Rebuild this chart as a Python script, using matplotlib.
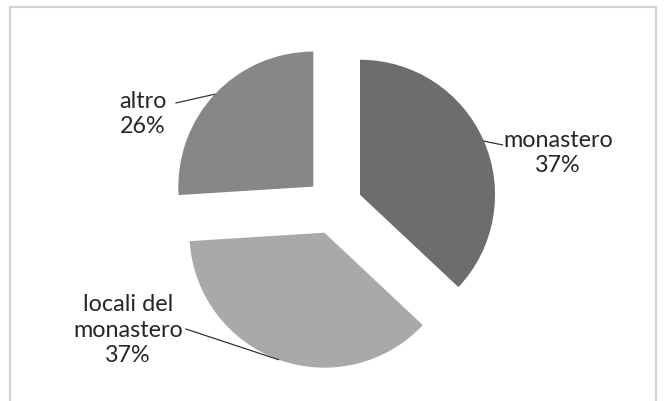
import numpy as np
import matplotlib
matplotlib.use("Agg")
import matplotlib.pyplot as plt
from matplotlib.patches import Rectangle

# Data
labels = ["monastero", "locali del\nmonastero", "altro"]
values = [37, 37, 26]
colors = ["#6d6d6d", "#a9a9a9", "#878787"]

W, H = 667, 401
fig = plt.figure(figsize=(W / 100, H / 100), dpi=100)
fig.patch.set_facecolor("white")

# Light chart-area frame
fig.add_artist(Rectangle((10 / W, -0.05), (656 - 10) / W, 1.05 - 7 / H,
                         transform=fig.transFigure, fill=False,
                         edgecolor="#d2d2d2", lw=1.6))

ax = fig.add_axes([0, 0, 1, 1])
R = 135.0
cx, cy = 334.0, 206.0
wedges, _ = ax.pie(values, colors=colors, startangle=90, counterclock=False,
                   explode=[0.21] * len(values), radius=1.0,
                   wedgeprops=dict(linewidth=0))
ax.set_aspect("auto")
ax.set_xlim(-cx / R, (W - cx) / R)
ax.set_ylim(-(H - cy) / R, cy / R)
ax.axis("off")

font = ["Lato", "DejaVu Sans"]
txtcol = "#262626"

# label centre and leader start (data units) for each wedge
label_pos = [(1.659, 0.393), (-1.526, -0.919), (-1.415, 0.681)]
leader_start = [(1.250, 0.452), (-1.098, -0.911), (-1.172, 0.763)]

for w, lab, v, lp, ls in zip(wedges, labels, values, label_pos, leader_start):
    ang = np.deg2rad((w.theta1 + w.theta2) / 2)
    c = w.center
    tip = (c[0] + w.r * np.cos(ang), c[1] + w.r * np.sin(ang))
    ax.annotate("", xy=tip, xytext=ls,
                arrowprops=dict(arrowstyle="-", color="#333333", lw=0.9,
                                shrinkA=0, shrinkB=0))
    ax.text(lp[0], lp[1], f"{lab}\n{v}%", ha="center", va="center",
            fontsize=16.8, family=font, color=txtcol, linespacing=1.28)

fig.savefig("out.png", dpi=100)
